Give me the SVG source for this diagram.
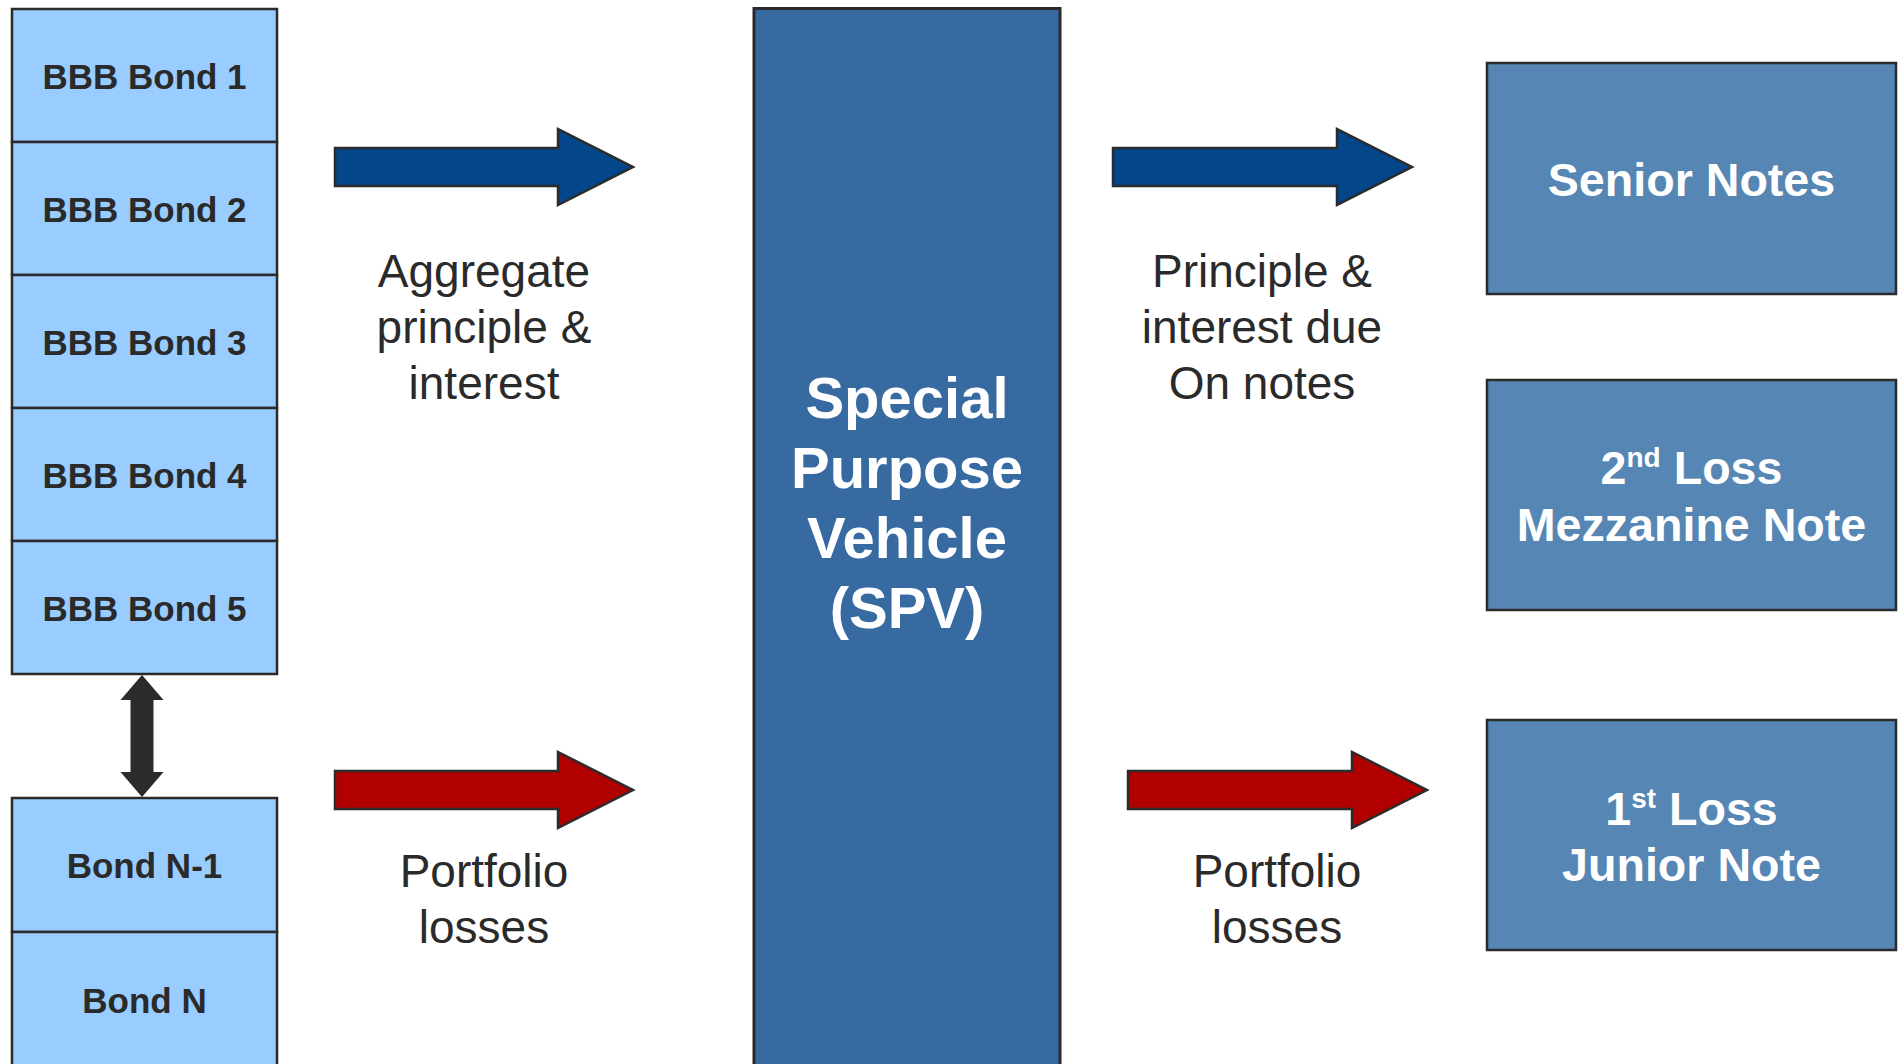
<svg xmlns="http://www.w3.org/2000/svg" width="1902" height="1064" viewBox="0 0 1902 1064">
<style>
.bond{fill:#99ccff;stroke:#2b2b2b;stroke-width:2.5}
.bt{font-family:"Liberation Sans",Arial,sans-serif;font-weight:bold;font-size:35px;fill:#2a2a2a;text-anchor:middle}
.spv{fill:#366aa1;stroke:#2b2b2b;stroke-width:3}
.note{fill:#5686b3;stroke:#2b2b2b;stroke-width:2.5}
.wt{font-family:"Liberation Sans",Arial,sans-serif;font-weight:bold;font-size:46.6px;fill:#ffffff;text-anchor:middle}
.st{font-family:"Liberation Sans",Arial,sans-serif;font-weight:bold;font-size:58px;fill:#ffffff;text-anchor:middle}
.lt{font-family:"Liberation Sans",Arial,sans-serif;font-size:46px;fill:#2a2a2a;text-anchor:middle}
.ab{fill:#03468a;stroke:#2b2b2b;stroke-width:2.5}
.ar{fill:#b00000;stroke:#2b2b2b;stroke-width:2.5}
.sup{font-size:28px}
</style>
<rect width="1902" height="1064" fill="#ffffff"/>
<g id="bond1"><rect class="bond" x="12" y="9" width="265" height="133"/><text class="bt" x="144.5" y="89">BBB Bond 1</text></g>
<g id="bond2"><rect class="bond" x="12" y="142" width="265" height="133"/><text class="bt" x="144.5" y="222">BBB Bond 2</text></g>
<g id="bond3"><rect class="bond" x="12" y="275" width="265" height="133"/><text class="bt" x="144.5" y="355">BBB Bond 3</text></g>
<g id="bond4"><rect class="bond" x="12" y="408" width="265" height="133"/><text class="bt" x="144.5" y="488">BBB Bond 4</text></g>
<g id="bond5"><rect class="bond" x="12" y="541" width="265" height="133"/><text class="bt" x="144.5" y="621">BBB Bond 5</text></g>
<g id="bondN1"><rect class="bond" x="12" y="798" width="265" height="134"/><text class="bt" x="144.5" y="878">Bond N-1</text></g>
<g id="bondN"><rect class="bond" x="12" y="932" width="265" height="140"/><text class="bt" x="144.5" y="1013">Bond N</text></g>
<g id="spv"><rect class="spv" x="754" y="8.5" width="306" height="1065"/>
<text class="st" x="907" y="418">Special</text>
<text class="st" x="907" y="488">Purpose</text>
<text class="st" x="907" y="558">Vehicle</text>
<text class="st" x="907" y="628">(SPV)</text></g>
<g id="senior"><rect class="note" x="1487" y="63" width="409" height="231"/><text class="wt" x="1691.5" y="196">Senior Notes</text></g>
<g id="mezzanine"><rect class="note" x="1487" y="380" width="409" height="230"/>
<text class="wt" x="1691.5" y="484">2<tspan class="sup" dy="-17">nd</tspan><tspan dy="17"> Loss</tspan></text>
<text class="wt" x="1691.5" y="541">Mezzanine Note</text></g>
<g id="junior"><rect class="note" x="1487" y="720" width="409" height="230"/>
<text class="wt" x="1691.5" y="825">1<tspan class="sup" dy="-17">st</tspan><tspan dy="17"> Loss</tspan></text>
<text class="wt" x="1691.5" y="881">Junior Note</text></g>
<g id="connectors">
<polygon class="ab" points="335,148 558,148 558,129 633,167 558,205 558,186 335,186"/>
<polygon class="ab" points="1113,148 1337,148 1337,129 1412,167 1337,205 1337,186 1113,186"/>
<polygon class="ar" points="335,771 558,771 558,752 633,790 558,828 558,809 335,809"/>
<polygon class="ar" points="1128,771 1352,771 1352,752 1427,790 1352,828 1352,809 1128,809"/>
<polygon fill="#2b2b2b" points="142,675 163.5,700 153.5,700 153.5,772 163.5,772 142,797 120.5,772 130.5,772 130.5,700 120.5,700"/>
</g>
<g id="labels">
<text class="lt" x="484" y="287">Aggregate</text>
<text class="lt" x="484" y="343">principle &amp;</text>
<text class="lt" x="484" y="399">interest</text>
<text class="lt" x="1262" y="287">Principle &amp;</text>
<text class="lt" x="1262" y="343">interest due</text>
<text class="lt" x="1262" y="399">On notes</text>
<text class="lt" x="484" y="887">Portfolio</text>
<text class="lt" x="484" y="943">losses</text>
<text class="lt" x="1277" y="887">Portfolio</text>
<text class="lt" x="1277" y="943">losses</text>
</g>
</svg>
